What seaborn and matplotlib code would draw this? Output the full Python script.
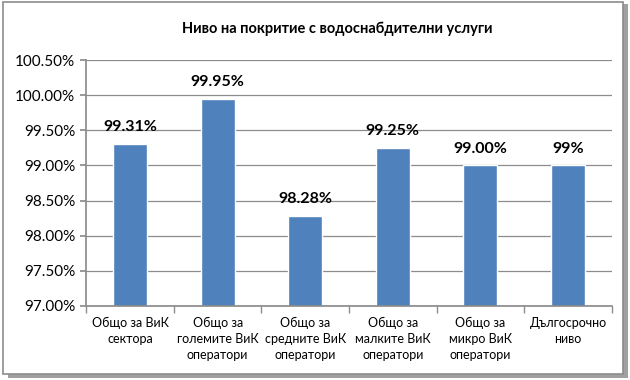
import matplotlib
matplotlib.use("Agg")
import matplotlib.pyplot as plt
import seaborn as sns
import pandas as pd
from matplotlib.patches import Rectangle
from matplotlib.ticker import FuncFormatter, MultipleLocator

categories = ["Общо за ВиК\nсектора", "Общо за\nголемите ВиК\nоператори",
              "Общо за\nсредните ВиК\nоператори", "Общо за\nмалките ВиК\nоператори",
              "Общо за\nмикро ВиК\nоператори", "Дългосрочно\nниво"]
values = [99.31, 99.95, 98.28, 99.25, 99.00, 99.00]
value_labels = ["99.31%", "99.95%", "98.28%", "99.25%", "99.00%", "99%"]
title = "Ниво на покритие с водоснабдителни услуги"

sns.set_theme(style="white")
plt.rcParams['font.family'] = ['Lato', 'DejaVu Sans']
plt.rcParams['text.color'] = 'black'
plt.rcParams['xtick.color'] = 'black'
plt.rcParams['ytick.color'] = 'black'

df = pd.DataFrame({"cat": categories, "val": values})

fig = plt.figure(figsize=(6.3, 3.8), dpi=100)
# frame with shadow
fig.patches.append(Rectangle((0.012, 0.005), 0.985, 0.985, transform=fig.transFigure,
                             facecolor="#a0a0a0", edgecolor="none", zorder=-3))
fig.patches.append(Rectangle((0.004, 0.016), 0.985, 0.978, transform=fig.transFigure,
                             facecolor="white", edgecolor="#8c8c8c", linewidth=1.2, zorder=-2))

ax = fig.add_axes([0.137, 0.195, 0.834, 0.647])
ax.patch.set_alpha(0)
sns.barplot(data=df, x="cat", y="val", color="#4F81BD", width=0.39, ax=ax,
            saturation=1)
ax.set_ylim(97.0, 100.5)
ax.yaxis.set_major_locator(MultipleLocator(0.5))
ax.yaxis.set_major_formatter(FuncFormatter(lambda v, p: f"{v:.2f}%"))
ax.grid(axis="y", color="#8c8c8c", linewidth=0.9)
ax.set_axisbelow(True)
for s in ["top", "right"]:
    ax.spines[s].set_visible(False)
ax.spines["left"].set_color("#8c8c8c")
ax.spines["bottom"].set_color("#8c8c8c")
ax.set_xlabel("")
ax.set_ylabel("")
ax.tick_params(axis="y", labelsize=11, length=4, color="#8c8c8c", left=True, pad=4)
ax.tick_params(axis="x", labelsize=9, length=0, pad=8)
ax.set_xticks(range(len(categories)))
ax.set_xticklabels(categories, linespacing=1.4)
ax.set_xlim(-0.5, len(categories) - 0.5)
ax.set_xticks([i - 0.5 for i in range(len(categories) + 1)], minor=True)
ax.tick_params(axis="x", which="minor", length=5, color="#8c8c8c", bottom=True)

for i, (v, lab) in enumerate(zip(values, value_labels)):
    ax.annotate(lab, (i, v), xytext=(0, 7), textcoords="offset points",
                ha="center", va="bottom", fontsize=11.5, fontweight="bold")

fig.text(0.535, 0.925, title, ha="center", va="center", fontsize=10.5, fontweight="bold")

fig.savefig("out.png", dpi=100)
